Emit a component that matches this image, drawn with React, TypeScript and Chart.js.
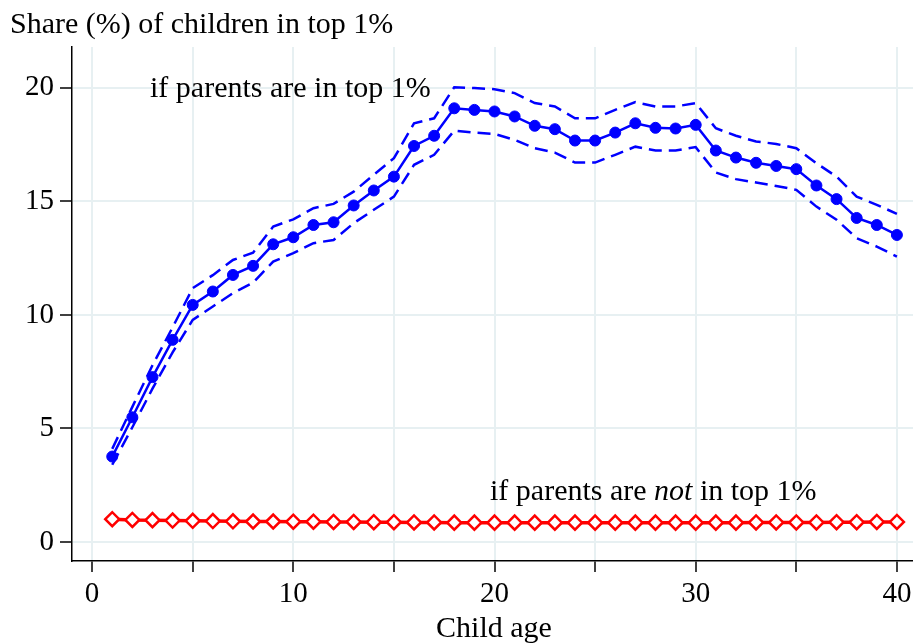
import React, { useEffect, useRef } from 'react';
import { Chart, registerables } from 'chart.js';

Chart.register(...registerables);

const ages = [1, 2, 3, 4, 5, 6, 7, 8, 9, 10, 11, 12, 13, 14, 15, 16, 17, 18, 19, 20, 21, 22, 23, 24, 25, 26, 27, 28, 29, 30, 31, 32, 33, 34, 35, 36, 37, 38, 39, 40];

const shareTop1 = [3.76, 5.49, 7.26, 8.9, 10.44, 11.03, 11.76, 12.16, 13.11, 13.42, 13.96, 14.08, 14.82, 15.48, 16.09, 17.44, 17.89, 19.1, 19.03, 18.96, 18.74, 18.33, 18.18, 17.68, 17.68, 18.03, 18.44, 18.24, 18.21, 18.37, 17.24, 16.93, 16.7, 16.56, 16.42, 15.7, 15.1, 14.27, 13.96, 13.52];

const upperTop1 = [4.1, 5.95, 7.78, 9.45, 11.18, 11.75, 12.42, 12.74, 13.89, 14.21, 14.7, 14.89, 15.43, 16.17, 16.9, 18.44, 18.66, 20.03, 19.99, 19.94, 19.77, 19.33, 19.18, 18.66, 18.66, 19.03, 19.37, 19.18, 19.18, 19.33, 18.22, 17.89, 17.64, 17.53, 17.34, 16.68, 16.09, 15.21, 14.85, 14.45];

const lowerTop1 = [3.4, 5.05, 6.75, 8.35, 9.78, 10.37, 10.96, 11.42, 12.35, 12.72, 13.16, 13.3, 14.04, 14.63, 15.21, 16.61, 17.05, 18.12, 18.03, 17.97, 17.71, 17.34, 17.15, 16.71, 16.71, 17.05, 17.41, 17.24, 17.24, 17.39, 16.27, 15.98, 15.83, 15.68, 15.51, 14.77, 14.19, 13.38, 13.01, 12.57];

const shareNotTop1 = [1.0, 0.97, 0.96, 0.94, 0.93, 0.92, 0.91, 0.9, 0.9, 0.89, 0.89, 0.88, 0.88, 0.87, 0.87, 0.86, 0.86, 0.85, 0.85, 0.85, 0.85, 0.85, 0.85, 0.85, 0.85, 0.85, 0.85, 0.85, 0.85, 0.85, 0.85, 0.85, 0.86, 0.86, 0.86, 0.86, 0.87, 0.87, 0.88, 0.88];

const xTicks = [0, 5, 10, 15, 20, 25, 30, 35, 40];
const xTickLabels = ['0', '', '10', '', '20', '', '30', '', '40'];
const yTicks = [0, 5, 10, 15, 20];

const titleText = 'Share (%) of children in top 1%';
const xTitle = 'Child age';
const labelTop = 'if parents are in top 1%';
const labelNotParts = ['if parents are ', 'not', ' in top 1%'];

const SERIF = '"Liberation Serif", "Times New Roman", serif';

const toXY = (vals: number[]) => ages.map((a, i) => ({ x: a, y: vals[i] }));

const textPlugin = {
  id: 'texts',
  afterDraw(chart: any) {
    const ctx = chart.ctx;
    ctx.save();
    ctx.fillStyle = '#000';
    ctx.textBaseline = 'alphabetic';
    ctx.textAlign = 'left';
    ctx.font = `30px ${SERIF}`;
    ctx.fillText(titleText, 10, 33);
    ctx.fillText(labelTop, 150, 97);
    let x = 490;
    const y = 500;
    ctx.font = `30px ${SERIF}`;
    ctx.fillText(labelNotParts[0], x, y);
    x += ctx.measureText(labelNotParts[0]).width;
    ctx.font = `italic 30px ${SERIF}`;
    ctx.fillText(labelNotParts[1], x, y);
    x += ctx.measureText(labelNotParts[1]).width;
    ctx.font = `30px ${SERIF}`;
    ctx.fillText(labelNotParts[2], x, y);
    ctx.textAlign = 'center';
    ctx.fillText(xTitle, 494, 637);
    ctx.restore();
  },
};

export default function App() {
  const ref = useRef<HTMLCanvasElement | null>(null);

  useEffect(() => {
    document.body.style.margin = '0';
    const canvas = ref.current;
    if (!canvas) return;
    const blue = '#0000ff';
    const red = '#ff0000';
    const grid = '#e7f0f2';
    const chart = new Chart(canvas, {
      type: 'line',
      data: {
        datasets: [
          {
            label: 'top1',
            data: toXY(shareTop1),
            borderColor: blue,
            backgroundColor: blue,
            borderWidth: 2.5,
            pointRadius: 5.5,
            pointBorderWidth: 1,
            pointBackgroundColor: blue,
            pointBorderColor: blue,
            tension: 0,
          },
          {
            label: 'upper',
            data: toXY(upperTop1),
            borderColor: blue,
            borderWidth: 2.5,
            borderDash: [13, 7],
            pointRadius: 0,
            tension: 0,
          },
          {
            label: 'lower',
            data: toXY(lowerTop1),
            borderColor: blue,
            borderWidth: 2.5,
            borderDash: [13, 7],
            pointRadius: 0,
            tension: 0,
          },
          {
            label: 'notTop1',
            data: toXY(shareNotTop1),
            borderColor: red,
            borderWidth: 3.5,
            pointStyle: 'rectRot',
            pointRadius: 7,
            pointBorderWidth: 2.5,
            pointBackgroundColor: '#ffffff',
            pointBorderColor: red,
            tension: 0,
          },
        ],
      },
      options: {
        responsive: false,
        animation: false,
        events: [],
        layout: { autoPadding: false, padding: { top: 47, left: 0, right: 0, bottom: 0 } },
        plugins: {
          legend: { display: false },
          tooltip: { enabled: false },
          title: { display: false },
        },
        scales: {
          x: {
            type: 'linear',
            min: -1,
            max: 40.8,
            afterBuildTicks: (scale: any) => {
              scale.ticks = xTicks.map((v) => ({ value: v }));
            },
            afterFit: (scale: any) => {
              scale.height = 83;
              scale.paddingLeft = 0;
              scale.paddingRight = 0;
            },
            ticks: {
              autoSkip: false,
              maxRotation: 0,
              color: '#000',
              font: { family: SERIF, size: 29 },
              padding: 5,
              callback: (v: any, i: number) => xTickLabels[i] ?? '',
            },
            grid: {
              color: grid,
              lineWidth: 2,
              tickColor: '#000',
              tickLength: 11,
              tickWidth: 1.5,
            },
            border: { display: true, color: '#000', width: 1.5 },
          },
          y: {
            type: 'linear',
            min: -0.84,
            max: 21.8,
            afterBuildTicks: (scale: any) => {
              scale.ticks = yTicks.map((v) => ({ value: v }));
            },
            afterFit: (scale: any) => {
              scale.width = 72;
              scale.paddingTop = 0;
              scale.paddingBottom = 0;
            },
            ticks: {
              color: '#000',
              font: { family: SERIF, size: 29 },
              padding: 6,
              callback: (v: any) => String(v),
            },
            grid: {
              color: grid,
              lineWidth: 2,
              tickColor: '#000',
              tickLength: 12,
              tickWidth: 1.5,
            },
            border: { display: true, color: '#000', width: 1.5 },
          },
        },
      },
      plugins: [textPlugin],
    } as any);
    return () => chart.destroy();
  }, []);

  return (
    <div style={{ position: 'absolute', left: 0, top: 0, width: 913, height: 644, background: '#fff' }}>
      <canvas ref={ref} width={913} height={644} style={{ display: 'block', width: 913, height: 644 }} />
    </div>
  );
}
